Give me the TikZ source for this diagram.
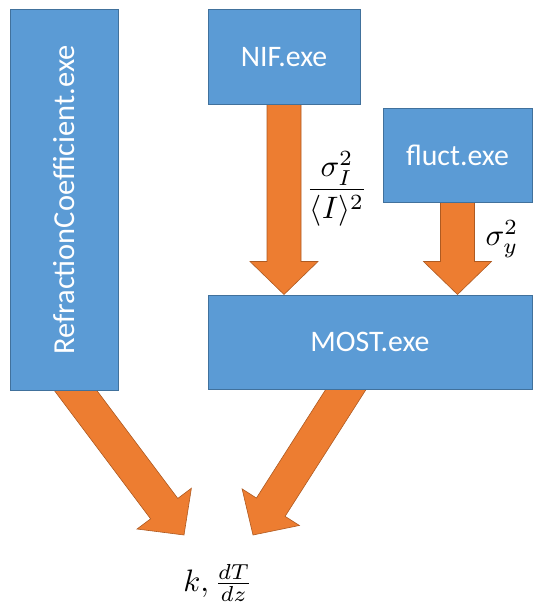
\documentclass[tikz,border=0pt]{standalone}
\usepackage{fontspec}
\setmainfont{Carlito}
\usetikzlibrary{calc}

\definecolor{boxblue}{HTML}{5B9BD5}
\definecolor{boxedge}{HTML}{41719C}
\definecolor{arrorange}{HTML}{ED7D31}
\definecolor{arredge}{HTML}{AE5A21}

\pgfdeclarelayer{behind}
\pgfsetlayers{behind,main}

\tikzset{
  prog/.style={draw=boxedge, fill=boxblue, line width=1pt, inner sep=0pt,
               text=white, font=\fontsize{29.8}{35}\selectfont},
  proglabel/.style={text=white, inner sep=0pt, font=\fontsize{30.5}{36}\selectfont},
  arrowbody/.style={fill=arrorange, draw=arredge, line width=0.6pt, line join=miter},
  mathlabel/.style={inner sep=0pt, scale=3.1},
}

% block arrow from #1 to the tip #2: shaft 34pt wide, head 68pt wide and 33pt long
\newcommand\blockarrow[2]{%
  \coordinate (ba-h) at ($(#2)!33pt!(#1)$);
  \path[arrowbody]
    ($(#1)!17pt!90:(#2)$) -- ($(ba-h)!17pt!90:(#2)$) -- ($(ba-h)!34pt!90:(#2)$)
    -- (#2)
    -- ($(ba-h)!34pt!-90:(#2)$) -- ($(ba-h)!17pt!-90:(#2)$) -- ($(#1)!17pt!-90:(#2)$)
    -- cycle;
}

\begin{document}
\begin{tikzpicture}[x=1pt, y=-1pt]
  \useasboundingbox (0,0) rectangle (533,610);

  % program boxes
  \node[prog, minimum width=108pt, minimum height=380pt] (refr) at (64,200) {};
  \node[proglabel, rotate=90] (refr-label) at (refr.center) {RefractionCoefficient.exe};
  \node[prog, minimum width=152pt, minimum height=94pt] (nif) at (284,57) {NIF.exe};
  \node[prog, minimum width=149pt, minimum height=94pt] (fluct) at (457.5,155) {fluct.exe};
  \node[prog, minimum width=324pt, minimum height=94pt] (most) at (370,342) {MOST.exe};

  % arrow end points
  \coordinate (nif-tip) at (nif.south |- most.north);
  \coordinate (fluct-tip) at (fluct.south |- most.north);
  \coordinate (res-left) at (184,535);
  \coordinate (res-right) at (253,535);
  \coordinate (nif-base) at ($(nif.south)+(0,-10)$);
  \coordinate (fluct-base) at ($(fluct.south)+(0,-10)$);
  \coordinate (refr-base) at ($(refr.south)+(3,0)!-22pt!(res-left)$);
  \coordinate (most-base) at ($(most.south)+(-2,0)!-22pt!(res-right)$);

  % data flow arrows, drawn behind the boxes
  \begin{pgfonlayer}{behind}
    \blockarrow{nif-base}{nif-tip}
    \blockarrow{fluct-base}{fluct-tip}
    \blockarrow{refr-base}{res-left}
    \blockarrow{most-base}{res-right}
  \end{pgfonlayer}

  % quantities passed along the arrows
  \node[mathlabel] (nif-out) at (337,189) {$\displaystyle\frac{\sigma_I^2}{\langle I\rangle^2}$};
  \node[mathlabel] (fluct-out) at (502,239) {$\sigma_y^2$};
  \node[mathlabel] (result) at (218,583) {$k,\frac{dT}{dz}$};
\end{tikzpicture}
\end{document}
